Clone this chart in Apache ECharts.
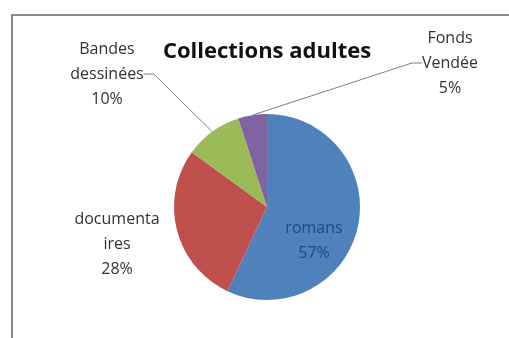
<!DOCTYPE html>
<html>
<head>
<meta charset="utf-8">
<script src="https://cdn.jsdelivr.net/npm/echarts@6/dist/echarts.min.js"></script>
<style>
  html, body { margin: 0; padding: 0; background: #fff; }
  #main { width: 509px; height: 338px; }
</style>
</head>
<body>
<div id="main"></div>
<script>
var categories = ['romans', 'documentaires', 'Bandes dessinées', 'Fonds Vendée'];
var labelTexts = ['romans\n57%', 'documenta\nires\n28%', 'Bandes\ndessinées\n10%', 'Fonds\nVendée\n5%'];
var values = [57, 28, 10, 5];
var colors = ['#4F81BD', '#C0504D', '#9BBB59', '#8064A2'];

// where each label sits (layout only)
var labelPos = [[314, 241], [117, 244], [107, 74], [450, 63]];

var chart = echarts.init(document.getElementById('main'));

var option = {
    animation: false,
    title: {
        text: 'Collections adultes',
        left: 262,
        top: 36,
        textAlign: 'center',
        textStyle: {
            fontFamily: 'Open Sans',
            fontWeight: 'bold',
            fontSize: 22,
            color: '#111'
        }
    },
    graphic: [
        {
            type: 'rect',
            shape: { x: 12, y: 15, width: 520, height: 340 },
            style: { fill: 'none', stroke: '#8a8a8a', lineWidth: 2 }
        }
    ],
    series: [
        {
            name: 'Collections adultes',
            type: 'pie',
            center: [267, 207],
            radius: 93,
            startAngle: 90,
            clockwise: true,
            label: {
                show: true,
                fontFamily: 'Open Sans',
                fontSize: 16,
                lineHeight: 25,
                color: '#333',
                align: 'center',
                formatter: function (p) { return labelTexts[p.dataIndex]; }
            },
            labelLine: {
                show: true,
                length: 10,
                length2: 10,
                lineStyle: { color: '#7f7f7f', width: 1 }
            },
            labelLayout: function (params) {
                var pos = labelPos[params.dataIndex];
                return {
                    x: pos[0],
                    y: pos[1],
                    align: 'center',
                    verticalAlign: 'middle'
                };
            },
            data: values.map(function (v, i) {
                var item = {
                    value: v,
                    name: categories[i],
                    itemStyle: { color: colors[i] }
                };
                if (i === 0) {
                    item.label = { position: 'inside', color: '#1F497D' };
                    item.labelLine = { show: false };
                }
                if (i === 1) {
                    item.labelLine = { show: false };
                }
                return item;
            })
        }
    ]
};

chart.setOption(option);
</script>
</body>
</html>
